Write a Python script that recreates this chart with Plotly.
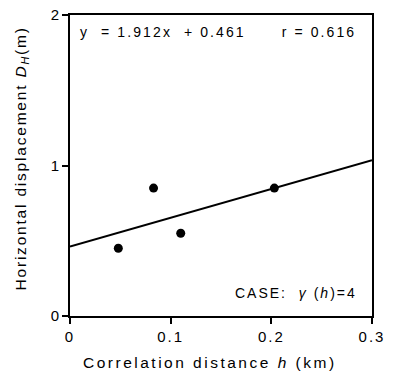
import plotly.graph_objects as go

# Data
h_km = [0.048, 0.083, 0.110, 0.203]
dh_m = [0.45, 0.85, 0.55, 0.85]
slope = 1.912
intercept = 0.461
r_value = 0.616
line_x = [0.0, 0.3]
line_y = [slope * v + intercept for v in line_x]

x_ticks = [0, 0.1, 0.2, 0.3]
x_tick_labels = ["0", "0.1", "0.2", "0.3"]
y_ticks = [0, 1, 2]
y_tick_labels = ["0", "1", "2"]

font_family = "Liberation Sans, Arial, Helvetica, sans-serif"


def spaced(txt, px):
    return f'<span style="letter-spacing:{px}px">{txt}</span>'


fig = go.Figure()
fig.add_trace(go.Scatter(x=line_x, y=line_y, mode="lines",
                         line=dict(color="black", width=2), showlegend=False,
                         cliponaxis=False))
fig.add_trace(go.Scatter(x=h_km, y=dh_m, mode="markers",
                         marker=dict(color="black", size=9), showlegend=False))

fig.update_layout(
    width=393, height=381,
    margin=dict(l=70, r=21, t=15, b=65, autoexpand=False),
    paper_bgcolor="white", plot_bgcolor="white",
    font=dict(family=font_family, size=14, color="black"),
    xaxis=dict(range=[0, 0.3], tickvals=x_ticks,
               ticktext=[spaced(t, 2) for t in x_tick_labels],
               ticks="outside", ticklen=6, tickwidth=2, tickcolor="black",
               showline=True, linewidth=2, linecolor="black", mirror=True,
               showgrid=False, zeroline=False, automargin=False,
               tickfont=dict(size=15)),
    yaxis=dict(range=[0, 2], tickvals=y_ticks, ticktext=y_tick_labels,
               ticks="outside", ticklen=6, tickwidth=2, tickcolor="black",
               showline=True, linewidth=2, linecolor="black", mirror=True,
               showgrid=False, zeroline=False, automargin=False,
               tickfont=dict(size=15)),
    annotations=[
        dict(x=0.5, y=0, xref="paper", yref="paper", xanchor="center", yanchor="middle",
             xshift=-11, yshift=-46,
             text=spaced("Correlation distance <i>h</i> (km)", 2.5),
             showarrow=False, font=dict(size=15.5)),
        dict(x=0, y=0.5, xref="paper", yref="paper", xanchor="center", yanchor="middle",
             xshift=-49, yshift=7, textangle=-90,
             text=spaced("Horizontal displacement <i>D<sub>H</sub></i>(m)", 1.8),
             showarrow=False, font=dict(size=15.5)),
        dict(x=0.008, y=1.887, xref="x", yref="y", xanchor="left", yanchor="middle",
             text=spaced(f"y&nbsp;&nbsp;=&nbsp;{slope}x&nbsp;&nbsp;+&nbsp;{intercept}"
                         f"&nbsp;&nbsp;&nbsp;&nbsp;&nbsp;&nbsp;r&nbsp;=&nbsp;{r_value}", 2.1),
             showarrow=False, font=dict(size=14)),
        dict(x=0.287, y=0.15, xref="x", yref="y", xanchor="right", yanchor="middle",
             text=spaced("CASE:&nbsp;&nbsp;<i>γ</i> (<i>h</i>)=4", 2),
             showarrow=False, font=dict(size=14)),
    ],
)

fig.write_html("out.html",
               config={"displayModeBar": False},
               post_script="document.body.style.margin='0';document.body.style.padding='0';")
